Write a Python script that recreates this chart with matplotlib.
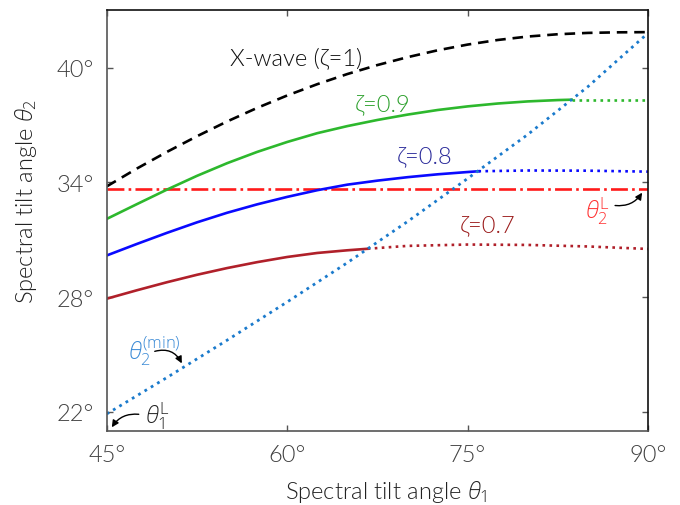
import matplotlib
matplotlib.use("Agg")
import matplotlib.pyplot as plt

plt.rcParams['font.family'] = ['Lato', 'DejaVu Sans']
plt.rcParams['font.weight'] = 300
plt.rcParams['axes.labelweight'] = 300
plt.rcParams['mathtext.fontset'] = 'custom'
plt.rcParams['mathtext.it'] = 'Open Sans:italic:light'
plt.rcParams['mathtext.rm'] = 'Open Sans:light'

# ---- data ----
x_wave = [45, 47.5, 50, 52.5, 55, 57.5, 60, 62.5, 65, 67.5, 70, 72.5, 75, 77.5, 80, 82.5, 85, 87.5, 90]
y_wave = [33.79, 34.72, 35.59, 36.41, 37.18, 37.89, 38.54, 39.13, 39.66, 40.13, 40.54, 40.90,
          41.20, 41.44, 41.62, 41.74, 41.81, 41.84, 41.85]

x_z09 = [45, 47.5, 50, 52.5, 55, 57.5, 60, 62.5, 65, 67.5, 70, 72.5, 75, 77.5, 80, 82.5, 83.65]
y_z09 = [32.09, 32.86, 33.62, 34.34, 35.00, 35.59, 36.11, 36.57, 36.94, 37.26, 37.54, 37.78,
         37.97, 38.12, 38.23, 38.30, 38.32]
x_z09_dot = [83.65, 90]
y_z09_dot = [38.32, 38.32]

x_z08 = [45, 47.5, 50, 52.5, 55, 57.5, 60, 62.5, 65, 67.5, 70, 72.5, 75, 75.9]
y_z08 = [30.18, 30.78, 31.36, 31.91, 32.41, 32.85, 33.24, 33.59, 33.88, 34.09, 34.27, 34.42, 34.54, 34.58]
x_z08_dot = [75.9, 80, 85, 90]
y_z08_dot = [34.58, 34.62, 34.61, 34.56]

x_z07 = [45, 47.5, 50, 52.5, 55, 57.5, 60, 62.5, 65, 66.7]
y_z07 = [27.92, 28.36, 28.78, 29.17, 29.52, 29.83, 30.10, 30.31, 30.45, 30.53]
x_z07_dot = [66.7, 70, 75, 80, 85, 90]
y_z07_dot = [30.53, 30.68, 30.75, 30.73, 30.65, 30.52]

x_min = [45, 50, 55, 60, 65, 70, 75, 80, 85, 90]
y_min = [21.9, 23.8, 25.75, 27.75, 29.8, 31.95, 34.2, 36.5, 39.0, 41.8]

theta2_L = 33.67

x_ticks = [45, 60, 75, 90]
y_ticks = [22, 28, 34, 40]
x_ticklabels = ['45°', '60°', '75°', '90°']
y_ticklabels = ['22°', '28°', '34°', '40°']

# ---- figure ----
fig = plt.figure(figsize=(6.8, 5.06), dpi=100)
ax = fig.add_axes([0.157, 0.146, 0.796, 0.832])

green = '#2db82d'
blue = '#0a0aff'
dred = '#b0202a'
red = '#ff1a1a'
lblue = '#1a7acc'
lw = 1.9

ax.plot(x_wave, y_wave, color='black', lw=lw, dashes=(4, 2.6))
ax.axhline(theta2_L, color=red, lw=lw, linestyle='-.')
ax.plot(x_z09, y_z09, color=green, lw=lw)
ax.plot(x_z09_dot, y_z09_dot, color=green, lw=lw, linestyle=':')
ax.plot(x_z08, y_z08, color=blue, lw=lw)
ax.plot(x_z08_dot, y_z08_dot, color=blue, lw=lw, linestyle=':')
ax.plot(x_z07, y_z07, color=dred, lw=lw)
ax.plot(x_z07_dot, y_z07_dot, color=dred, lw=lw, linestyle=':')
ax.plot(x_min, y_min, color=lblue, lw=2.0, linestyle=':')

ax.set_xlim(45, 90)
ax.set_ylim(21, 43)
ax.set_xticks(x_ticks)
ax.set_xticklabels(x_ticklabels)
ax.set_yticks(y_ticks)
ax.set_yticklabels(y_ticklabels)
ax.tick_params(direction='in', length=4.5, width=1, top=True, right=True,
               labelsize=17, labelcolor='#404040', color='#555555', pad=9)

for s in ['left', 'bottom']:
    ax.spines[s].set_color('#555555')
for s in ['top', 'right']:
    ax.spines[s].set_color('#111111')
for s in ax.spines.values():
    s.set_linewidth(1.2)

ax.set_xlabel(r'Spectral tilt angle $\theta_1$', fontsize=17, color='#222222', va='center')
ax.set_ylabel(r'Spectral tilt angle $\theta_2$', fontsize=17, color='#222222', va='center')
ax.xaxis.set_label_coords(0.516, -0.143)
ax.yaxis.set_label_coords(-0.150, 0.548)

fs = 17
ax.text(60.72, 40.2, 'X-wave (ζ=1)', fontsize=fs, color='#111111', ha='center', va='baseline')
ax.text(67.92, 37.79, 'ζ=0.9', fontsize=fs, color='#2ca02c', ha='center', va='baseline')
ax.text(71.46, 35.04, 'ζ=0.8', fontsize=fs, color='#2a2a9a', ha='center', va='baseline')
ax.text(76.66, 31.44, 'ζ=0.7', fontsize=fs, color='#9b1b1b', ha='center', va='baseline')

ax.text(84.77, 32.15, r'$\theta_2^{\mathrm{L}}$', fontsize=17, color='#ff3030', ha='left', va='baseline')
ax.text(46.75, 24.81, r'$\theta_2^{\mathrm{(min)}}$', fontsize=17, color='#3a8ad6', ha='left', va='baseline')
ax.text(48.16, 21.47, r'$\theta_1^{\mathrm{L}}$', fontsize=17, color='#222222', ha='left', va='baseline')

ap = dict(arrowstyle='-|>', color='black', lw=1.0, mutation_scale=10, shrinkA=0, shrinkB=0)
ax.annotate('', xy=(89.51, 33.46), xytext=(87.26, 32.79),
            arrowprops=dict(ap, connectionstyle='arc3,rad=0.3'))
ax.annotate('', xy=(51.24, 24.54), xytext=(48.99, 25.17),
            arrowprops=dict(ap, connectionstyle='arc3,rad=-0.4'))
ax.annotate('', xy=(45.42, 21.2), xytext=(47.66, 21.88),
            arrowprops=dict(ap, connectionstyle='arc3,rad=0.3'))

fig.savefig('out.png', dpi=100)
